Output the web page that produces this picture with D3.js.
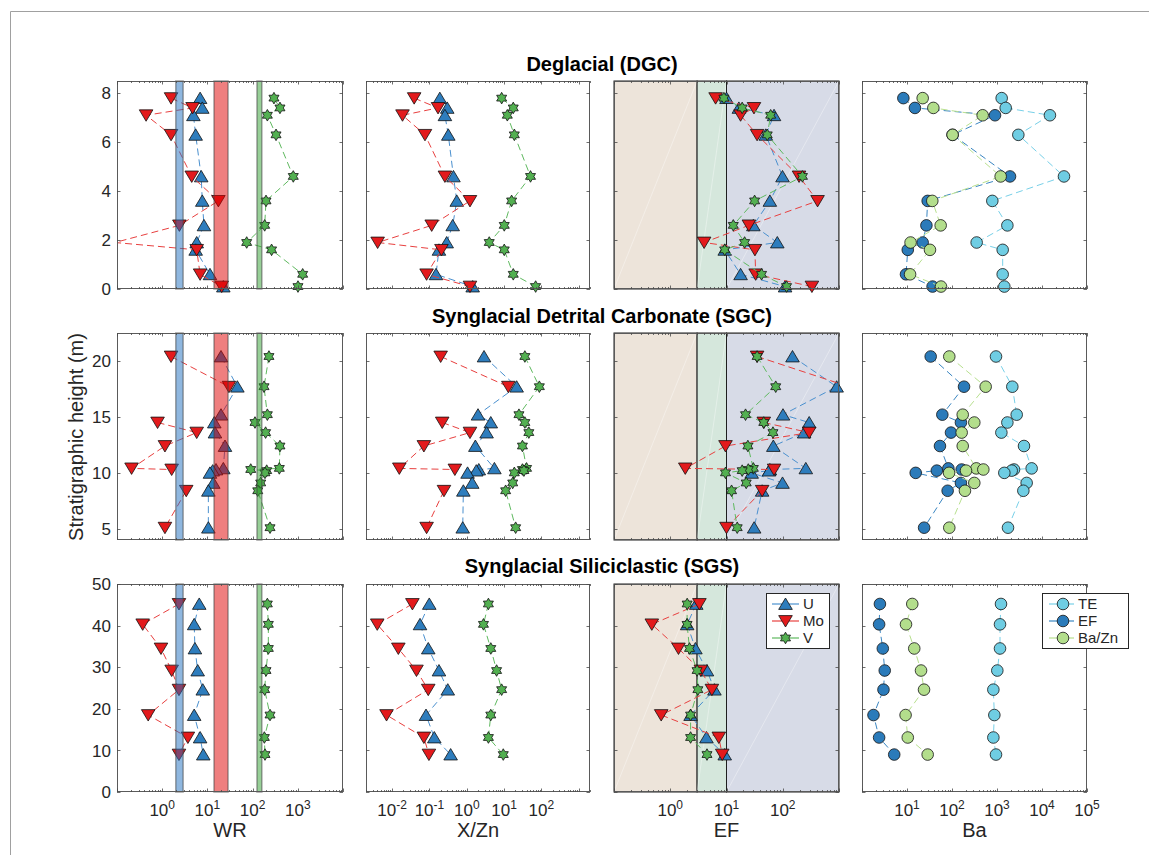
<!DOCTYPE html>
<html>
<head>
<meta charset="utf-8">
<script src="https://cdn.jsdelivr.net/npm/d3@7"></script>
<style>
body { margin: 0; background: #fff; }
svg text { font-family: "Liberation Sans", Arial, sans-serif; fill: #262626; }
</style>
</head>
<body>
<svg id="chart" width="1149" height="855"></svg>
<script>
// ---- Deglacial (DGC) ----
const dgcDepth   = [7.8, 7.4, 7.1, 6.3, 4.6, 3.6, 2.6, 1.9, 1.6, 0.6, 0.1];
const dgcWR_U    = [6.9, 7.7, 4.9, 5.5, 7.3, 7.7, 8.4, 5.8, 5.5, 11.4, 22.5];
const dgcWR_Mo   = [1.57, 4.7, 0.44, 1.57, 4.5, 17.5, 2.4, 0.09, 5.8, 6.9, 20.7];
const dgcWR_V    = [297, 403, 212, 330, 794, 198, 185, 74, 263, 1282, 1009];
const dgcXZn_U   = [0.19, 0.30, 0.26, 0.32, 0.44, 0.54, 0.42, 0.29, 0.18, 0.15, 1.44];
const dgcXZn_Mo  = [0.039, 0.17, 0.019, 0.076, 0.26, 1.22, 0.115, 0.0041, 0.21, 0.084, 1.22];
const dgcXZn_V   = [8.6, 17.6, 12.2, 18.8, 51, 15.9, 10.1, 4.0, 10.1, 17.6, 70];
const dgcEF_U    = [10, 16.6, 70, 50, 99, 59, 30, 80, 9.3, 17.8, 110];
const dgcEF_Mo   = [6.4, 30.8, 17.8, 35, 195, 416, 25, 4.0, 32, 33, 330];
const dgcEF_V    = [9.0, 19, 61, 53, 224, 31.6, 13.2, 21, 9.3, 42, 117];
const dgcBa_TE   = [1270, 1560, 15000, 2980, 30800, 787, 1700, 353, 1337, 1337, 1455];
const dgcBa_EF   = [8.3, 15, 903, 103, 1945, 28.8, 27, 22.3, 10.4, 9.5, 37];
const dgcBa_BaZn = [22.3, 38.5, 480, 103, 1205, 36.5, 56, 12, 32.4, 11.7, 57];

// ---- Synglacial Detrital Carbonate (SGC) ----
const sgcDepth   = [20.4, 17.7, 15.2, 14.5, 13.6, 12.4, 10.4, 10.3, 10.2, 10.0, 9.1, 8.4, 5.1];
const sgcWR_U    = [20, 46, 20, 14.2, 14.7, 24.5, 22.5, 15.5, 13.1, 11.4, 13.5, 10.5, 10.5];
const sgcWR_Mo   = [1.57, 30, null, 0.79, 5.8, 1.15, 0.21, 1.62, null, null, null, 3.4, 1.15];
const sgcWR_V    = [230, 179, 212, 113, 194, 403, 390, 91, 205, 188, 151, 130, 243];
const sgcXZn_U   = [2.9, 21.7, 2.0, 4.4, 3.4, 1.7, 5.5, 2.1, 1.8, 1.05, 1.4, 0.81, 0.78];
const sgcXZn_Mo  = [0.2, 13, null, 0.22, 1.22, 0.071, 0.0156, 0.48, null, null, null, 0.245, 0.084];
const sgcXZn_V   = [36, 88, 25, 36, 46, 31, 40, 31, 34, 18.8, 17, 11, 20.4];
const sgcEF_U    = [149, 908, 101, 295, 240, 68, 257, 59, 57, 28, 99, 43, 31];
const sgcEF_Mo   = [35, 1500, null, 46, 295, 9.6, 1.85, 70, null, null, null, 43, 10];
const sgcEF_V    = [35, 75, 21.8, 46, 67, 24, 30, 24.4, 19, 9.6, 22.4, 12.3, 15.5];
const sgcBa_TE   = [950, 2190, 2740, 1700, 1250, 3980, 5890, 2390, 2120, 1455, 4560, 3850, 1755];
const sgcBa_EF   = [33.6, 185, 61, 158, 95, 54, 83, 164, 46, 15.6, 158, 80, 24];
const sgcBa_BaZn = [87, 560, 173, 313, 164, 173, 347, 497, 205, 86, 313, 194, 87];

// ---- Synglacial Siliciclastic (SGS) ----
const sgsDepth   = [45.2, 40.3, 34.5, 29.2, 24.6, 18.5, 13.1, 9.0];
const sgsWR_U    = [6.6, 5.1, 5.3, 6.1, 7.9, 5.1, 6.9, 8.1];
const sgsWR_Mo   = [2.35, 0.37, 0.94, 1.62, 2.35, 0.49, 3.7, 2.35];
const sgsWR_V    = [212, 223, 223, 198, 185, 243, 182, 188];
const sgsXZn_U   = [0.099, 0.056, 0.093, 0.18, 0.31, 0.081, 0.135, 0.37];
const sgsXZn_Mo  = [0.035, 0.004, 0.0147, 0.045, 0.093, 0.0071, 0.071, 0.097];
const sgsXZn_V   = [3.8, 2.8, 4.4, 6.3, 8.6, 4.4, 3.8, 9.5];
const sgsEF_U    = [2.9, 2.0, 2.8, 4.5, 6.1, 2.3, 4.4, 9.3];
const sgsEF_Mo   = [3.3, 0.47, 1.4, 3.5, 5.5, 0.69, 7.3, 8.4];
const sgsEF_V    = [2.0, 1.99, 2.2, 3.0, 3.1, 2.3, 2.3, 4.5];
const sgsBa_TE   = [1227, 1166, 1166, 1016, 830, 873, 830, 950];
const sgsBa_EF   = [2.5, 2.4, 2.9, 3.2, 3.0, 1.8, 2.4, 5.2];
const sgsBa_BaZn = [13.1, 9.5, 14.5, 20.5, 23.9, 9.3, 10.4, 28.8];

// reference ranges
const wrBandU  = [2.0, 2.9];
const wrBandMo = [14, 28.6];
const wrBandV  = [125, 160];
const efBreaks = [3, 10];

// axes setup
const xDomains = [[0.1, 1e4], [0.002, 2000], [0.1, 1000], [1, 1e5]];
const xTickLabels = [[1, 10, 100, 1000], [0.01, 0.1, 1, 10, 100], [1, 10, 100], [10, 100, 1000, 1e4, 1e5]];
const xTitles = ["WR", "X/Zn", "EF", "Ba"];
const rowTitles = ["Deglacial (DGC)", "Synglacial Detrital Carbonate (SGC)", "Synglacial Siliciclastic (SGS)"];
const yDomains = [[0, 8.5], [4, 22.5], [0, 50]];
const yTicks = [[0, 2, 4, 6, 8], [5, 10, 15, 20], [0, 10, 20, 30, 40, 50]];
const traceNames = [["U", "Mo", "V"], ["TE", "EF", "Ba/Zn"]];

const colLeft = [117, 366, 614, 862];
const colRight = [343, 590, 839, 1087];
const rowTop = [81, 333, 584];
const rowBottom = [289, 540, 792];
const titleY = [71, 323, 573];

const rowsData = [
  { depth: dgcDepth, cols: [[dgcWR_U, dgcWR_Mo, dgcWR_V], [dgcXZn_U, dgcXZn_Mo, dgcXZn_V], [dgcEF_U, dgcEF_Mo, dgcEF_V], [dgcBa_TE, dgcBa_EF, dgcBa_BaZn]] },
  { depth: sgcDepth, cols: [[sgcWR_U, sgcWR_Mo, sgcWR_V], [sgcXZn_U, sgcXZn_Mo, sgcXZn_V], [sgcEF_U, sgcEF_Mo, sgcEF_V], [sgcBa_TE, sgcBa_EF, sgcBa_BaZn]] },
  { depth: sgsDepth, cols: [[sgsWR_U, sgsWR_Mo, sgsWR_V], [sgsXZn_U, sgsXZn_Mo, sgsXZn_V], [sgsEF_U, sgsEF_Mo, sgsEF_V], [sgsBa_TE, sgsBa_EF, sgsBa_BaZn]] }
];

function hexagram(r) {
  const ri = r / Math.sqrt(3);
  const pts = d3.range(12).map(k => {
    const a = -Math.PI / 2 + k * Math.PI / 6;
    const rr = k % 2 === 0 ? r : ri;
    return [rr * Math.cos(a), rr * Math.sin(a)];
  });
  return "M" + pts.map(p => p[0].toFixed(2) + "," + p[1].toFixed(2)).join("L") + "Z";
}

const markers = {
  up: "M0,-6L6.8,5.4L-6.8,5.4Z",
  down: "M0,6L6.8,-5.4L-6.8,-5.4Z",
  hex: hexagram(5.8),
  circle: d3.symbol(d3.symbolCircle, Math.PI * 5.8 * 5.8)()
};

// styles: U, Mo, V  /  TE, EF, Ba/Zn
const elemStyles = [
  { marker: "up", fill: "#2e7dbd", line: "#4a90cf" },
  { marker: "down", fill: "#e31a1c", line: "#e8403f" },
  { marker: "hex", fill: "#53b051", line: "#5fb95f" }
];
const baStyles = [
  { marker: "circle", fill: "#6fcde3", line: "#78d0e8" },
  { marker: "circle", fill: "#2b7bba", line: "#3a86c2" },
  { marker: "circle", fill: "#b3de8c", line: "#b8e08f" }
];

const svg = d3.select("#chart");

// outer frame
svg.append("path")
  .attr("d", "M10.5,855V11.5H1149")
  .attr("fill", "none")
  .attr("stroke", "#a0a0a0")
  .attr("stroke-width", 1);

const defs = svg.append("defs");

rowsData.forEach((row, ri) => {
  const y = d3.scaleLinear().domain(yDomains[ri]).range([rowBottom[ri], rowTop[ri]]);

  row.cols.forEach((series, ci) => {
    const x = d3.scaleLog().domain(xDomains[ci]).range([colLeft[ci], colRight[ci]]);
    const g = svg.append("g");
    const clipId = `clip-${ri}-${ci}`;
    defs.append("clipPath").attr("id", clipId)
      .append("rect")
      .attr("x", colLeft[ci]).attr("y", rowTop[ri])
      .attr("width", colRight[ci] - colLeft[ci])
      .attr("height", rowBottom[ri] - rowTop[ri]);

    // EF zones
    if (ci === 2) {
      const zones = [
        { a: xDomains[2][0], b: efBreaks[0], fill: "#ede4da" },
        { a: efBreaks[0], b: efBreaks[1], fill: "#d5e7dc" },
        { a: efBreaks[1], b: xDomains[2][1], fill: "#d7dbe7" }
      ];
      zones.forEach(z => {
        g.append("rect")
          .attr("x", x(z.a)).attr("y", rowTop[ri])
          .attr("width", x(z.b) - x(z.a))
          .attr("height", rowBottom[ri] - rowTop[ri])
          .attr("fill", z.fill)
          .attr("stroke", "#1e1e1e")
          .attr("stroke-width", 1);
        g.append("line")
          .attr("x1", x(z.a)).attr("y1", rowBottom[ri])
          .attr("x2", x(z.b)).attr("y2", rowTop[ri])
          .attr("stroke", "#fff").attr("stroke-opacity", 0.6)
          .attr("stroke-width", 0.6);
      });
    }

    const styles = ci === 3 ? baStyles : elemStyles;
    series.forEach((vals, si) => {
      const st = styles[si];
      const pts = row.depth.map((d, i) => ({ d, v: vals[i] }));
      const line = d3.line()
        .defined(p => p.v != null)
        .x(p => x(p.v))
        .y(p => y(p.d));
      g.append("path")
        .attr("d", line(pts))
        .attr("clip-path", `url(#${clipId})`)
        .attr("fill", "none")
        .attr("stroke", st.line)
        .attr("stroke-width", 1)
        .attr("stroke-dasharray", "7,4");
      g.selectAll(null)
        .data(pts.filter(p => p.v != null && p.v >= xDomains[ci][0] && p.v <= xDomains[ci][1]))
        .enter()
        .append("path")
        .attr("d", markers[st.marker])
        .attr("transform", p => `translate(${x(p.v)},${y(p.d)})`)
        .attr("fill", st.fill)
        .attr("stroke", "#111")
        .attr("stroke-width", 0.8);
    });

    // WR reference bands drawn on top, semi-transparent
    if (ci === 0) {
      const bands = [
        { r: wrBandU, fill: "#1f6fc0" },
        { r: wrBandMo, fill: "#e00000" },
        { r: wrBandV, fill: "#2fa02f" }
      ];
      bands.forEach(b => {
        g.append("rect")
          .attr("x", x(b.r[0])).attr("y", rowTop[ri])
          .attr("width", x(b.r[1]) - x(b.r[0]))
          .attr("height", rowBottom[ri] - rowTop[ri])
          .attr("fill", b.fill).attr("fill-opacity", 0.5)
          .attr("stroke", "#444").attr("stroke-opacity", 0.5)
          .attr("stroke-width", 1.5);
      });
    }

    // frame
    g.append("rect")
      .attr("x", colLeft[ci] + 0.5).attr("y", rowTop[ri] + 0.5)
      .attr("width", colRight[ci] - colLeft[ci] - 1)
      .attr("height", rowBottom[ri] - rowTop[ri] - 1)
      .attr("fill", "none")
      .attr("stroke", "#5a5a5a")
      .attr("stroke-width", 1);

    // x ticks (log, major + minor) top and bottom
    const [lo, hi] = xDomains[ci];
    const xt = [];
    for (let e = Math.floor(Math.log10(lo)); e <= Math.ceil(Math.log10(hi)); e++) {
      for (let m = 1; m <= 9; m++) {
        const v = m * Math.pow(10, e);
        if (v >= lo * 0.9999 && v <= hi * 1.0001) xt.push({ v, major: m === 1 });
      }
    }
    xt.forEach(t => {
      const px = Math.round(x(t.v)) + 0.5;
      const len = t.major ? 3.5 : 2;
      g.append("line").attr("x1", px).attr("x2", px)
        .attr("y1", rowBottom[ri]).attr("y2", rowBottom[ri] - len)
        .attr("stroke", "#4a4a4a").attr("stroke-width", 0.8);
      g.append("line").attr("x1", px).attr("x2", px)
        .attr("y1", rowTop[ri]).attr("y2", rowTop[ri] + len)
        .attr("stroke", "#4a4a4a").attr("stroke-width", 0.8);
    });

    // y ticks left and right
    yTicks[ri].forEach(t => {
      const py = Math.round(y(t)) + 0.5;
      g.append("line").attr("x1", colLeft[ci]).attr("x2", colLeft[ci] + 3.5)
        .attr("y1", py).attr("y2", py)
        .attr("stroke", "#4a4a4a").attr("stroke-width", 0.8);
      g.append("line").attr("x1", colRight[ci]).attr("x2", colRight[ci] - 3.5)
        .attr("y1", py).attr("y2", py)
        .attr("stroke", "#4a4a4a").attr("stroke-width", 0.8);
    });

    // y tick labels on first column
    if (ci === 0) {
      g.selectAll(null).data(yTicks[ri]).enter()
        .append("text")
        .attr("x", colLeft[ci] - 6)
        .attr("y", t => y(t))
        .attr("dy", "0.36em")
        .attr("text-anchor", "end")
        .style("font-size", "17px")
        .text(t => t);
    }

    // x tick labels and titles on the bottom row
    if (ri === 2) {
      xTickLabels[ci].forEach(v => {
        const e = Math.round(Math.log10(v));
        const t = g.append("text")
          .attr("x", x(v))
          .attr("y", 816)
          .attr("text-anchor", "middle")
          .style("font-size", "17px");
        t.append("tspan").text("10");
        t.append("tspan").attr("dy", -7).style("font-size", "12px").text(String(e));
      });
      g.append("text")
        .attr("x", (colLeft[ci] + colRight[ci]) / 2)
        .attr("y", 837)
        .attr("text-anchor", "middle")
        .style("font-size", "20px")
        .text(xTitles[ci]);
    }
  });

  svg.append("text")
    .attr("x", (colLeft[0] + colRight[3]) / 2)
    .attr("y", titleY[ri])
    .attr("text-anchor", "middle")
    .style("font-size", "20px")
    .style("font-weight", "bold")
    .style("fill", "#000")
    .text(rowTitles[ri]);
});

svg.append("text")
  .attr("transform", "translate(83,437) rotate(-90)")
  .attr("text-anchor", "middle")
  .style("font-size", "20px")
  .text("Stratigraphic height (m)");

// legends
function legend(x0, y0, w, names, styles, lineX, markX, textX) {
  const lg = svg.append("g");
  lg.append("rect")
    .attr("x", x0 + 0.5).attr("y", y0 + 0.5)
    .attr("width", w).attr("height", 55)
    .attr("fill", "#fff").attr("stroke", "#262626").attr("stroke-width", 1);
  names.forEach((n, i) => {
    const yy = y0 + 11 + i * 17;
    const st = styles[i];
    lg.append("line")
      .attr("x1", lineX[0]).attr("x2", lineX[1])
      .attr("y1", yy).attr("y2", yy)
      .attr("stroke", st.line).attr("stroke-width", 1.2);
    lg.append("path")
      .attr("d", markers[st.marker])
      .attr("transform", `translate(${markX},${yy})`)
      .attr("fill", st.fill).attr("stroke", "#111").attr("stroke-width", 0.8);
    lg.append("text")
      .attr("x", textX).attr("y", yy).attr("dy", "0.35em")
      .style("font-size", "15px")
      .text(n);
  });
}
legend(766, 593, 63, traceNames[0], elemStyles, [772, 799], 785.5, 803);
legend(1042, 593, 86, traceNames[1], baStyles, [1049, 1074], 1063, 1078);
</script>
</body>
</html>
